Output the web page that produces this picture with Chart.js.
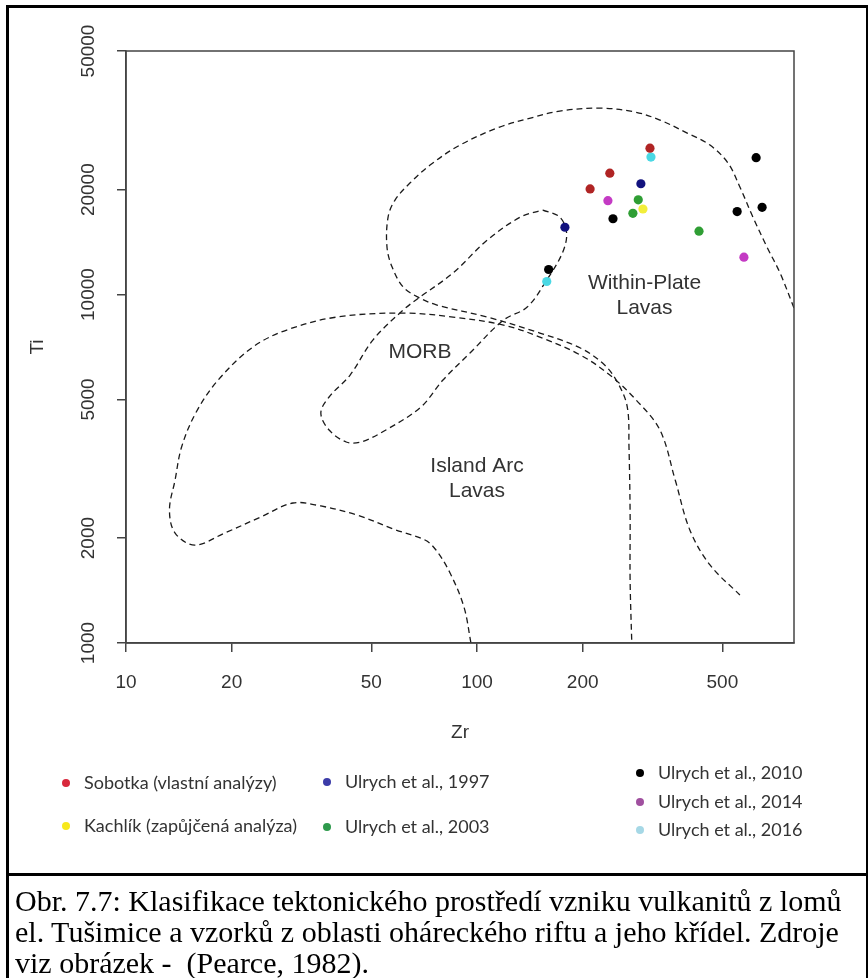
<!DOCTYPE html>
<html>
<head>
<meta charset="utf-8">
<script src="https://cdn.jsdelivr.net/npm/chart.js@4"></script>
<style>
  body { margin: 0; background: #fff; width: 868px; height: 978px; position: relative; overflow: hidden; }
  #plot { position: absolute; left: 0; top: 0; }
  #frame { position: absolute; left: 6px; top: 5px; width: 857px; height: 865px; border: 3px solid #000; pointer-events: none; }
  #caption { position: absolute; left: 6px; top: 873px; width: 851px; height: 110px; padding-left: 6px;
             border-left: 3px solid #000; border-right: 3px solid #000;
             font-family: "Liberation Serif", "Times New Roman", serif; font-size: 30px; line-height: 31px; color: #000; }
  #caption div { white-space: nowrap; }
</style>
</head>
<body>
<canvas id="plot" width="868" height="873"></canvas>
<div id="frame"></div>
<div id="caption">
  <div style="margin-top:12px">Obr. 7.7: Klasifikace tektonického prostředí vzniku vulkanitů z lomů</div>
  <div>el. Tušimice a vzorků z oblasti oháreckého riftu a jeho křídel. Zdroje</div>
  <div>viz obrázek -&nbsp; (Pearce, 1982).</div>
</div>
<script>
// axis ticks
const zrTicks = [10, 20, 50, 100, 200, 500];
const tiTicks = [1000, 2000, 5000, 10000, 20000, 50000];

// sample groups
const groups = ['Sobotka (vlastní analýzy)', 'Kachlík (zapůjčená analýza)', 'Ulrych et al., 1997',
                'Ulrych et al., 2003', 'Ulrych et al., 2010', 'Ulrych et al., 2014', 'Ulrych et al., 2016'];
const pointColors = ['#b02424', '#f2ee3a', '#12127e', '#2f9e34', '#000000', '#c43ac4', '#4ad8e4'];
const legendColors = ['#d8283c', '#f7e81c', '#3c3ca8', '#2e9a4c', '#000000', '#a0509f', '#a6d8e6'];

const sobotkaZr = [311, 239, 210];
const sobotkaTi = [26300, 22300, 20100];
const kachlikZr = [297];
const kachlikTi = [17600];
const ulrych1997Zr = [293, 178];
const ulrych1997Ti = [20800, 15600];
const ulrych2003Zr = [288, 278, 429];
const ulrych2003Ti = [18700, 17100, 15200];
const ulrych2010Zr = [244, 160, 624, 551, 649];
const ulrych2010Ti = [16500, 11800, 24700, 17300, 17800];
const ulrych2014Zr = [236, 576];
const ulrych2014Ti = [18600, 12800];
const ulrych2016Zr = [313, 158];
const ulrych2016Ti = [24800, 10900];

const groupZr = [sobotkaZr, kachlikZr, ulrych1997Zr, ulrych2003Zr, ulrych2010Zr, ulrych2014Zr, ulrych2016Zr];
const groupTi = [sobotkaTi, kachlikTi, ulrych1997Ti, ulrych2003Ti, ulrych2010Ti, ulrych2014Ti, ulrych2016Ti];

// Pearce (1982) field boundaries
const withinPlateZr = [800, 730, 670, 611, 561, 519, 461, 397, 332, 282, 224, 172, 142, 116, 89.4, 73.5, 64.4,
                       58.4, 55.8, 55.4, 57.3, 61.6, 67.9, 76.9, 107, 151, 197, 231, 252, 268, 271, 273, 273, 276];
const withinPlateTi = [9150, 11530, 13690, 16690, 20350, 23840, 26850, 29070, 31680, 33400, 34290, 33610, 32100,
                       30240, 26850, 23530, 20890, 18670, 16690, 13690, 11990, 10510, 9835, 9330, 8620, 7755,
                       7025, 6277, 5573, 4756, 3651, 2361, 1516, 1000];
const islandArcZr = [96.1, 91.8, 83.8, 76.4, 71.1, 58.8, 45.5, 35.9, 29.9, 24.2, 19.1, 15.7, 13.8, 13.3, 13.8,
                     14.4, 15.8, 18.3, 23.0, 28.7, 39.9, 61.6, 85.4, 119, 151, 197, 239, 284, 332, 367, 404, 461, 561];
const islandArcTi = [1000, 1268, 1588, 1849, 1975, 2110, 2330, 2473, 2522, 2299, 2068, 1910, 2068, 2408, 2936,
                     3651, 4571, 5684, 7071, 7911, 8620, 8850, 8620, 8176, 7553, 6706, 5875, 4982, 4086, 2936,
                     2110, 1675, 1373];
const morbZr = [154, 172, 180, 175, 158, 139, 119, 95.5, 80.0, 69.2, 55.0, 46.7, 42.4, 37.9, 35.9, 37.9, 43.5,
                50.5, 61.6, 68.8, 85.4, 107, 133, 154];
const morbTi = [17480, 16690, 15010, 13150, 11010, 9209, 8450, 6795, 5684, 4756, 4086, 3774, 3774, 4086, 4571,
                5081, 5875, 7404, 9028, 9835, 11530, 14330, 16690, 17480];

// field names and where they sit (Zr, Ti)
const fieldNames = [['Within-Plate', 'Lavas'], ['MORB'], ['Island Arc', 'Lavas']];
const fieldZr = [300, 68.8, 100];
const fieldTi = [9900, 6840, 2955];

const toPoints = (xs, ys) => xs.map((x, i) => ({ x: x, y: ys[i] }));

const datasets = groups.map((g, i) => ({
  label: g,
  data: toPoints(groupZr[i], groupTi[i]),
  backgroundColor: pointColors[i],
  borderWidth: 0,
  pointRadius: 4.6,
  order: 0
}));

[[withinPlateZr, withinPlateTi], [islandArcZr, islandArcTi], [morbZr, morbTi]].forEach(([zr, ti]) => {
  datasets.push({
    type: 'line',
    data: toPoints(zr, ti),
    borderColor: '#1a1a1a',
    borderWidth: 1.3,
    borderDash: [6, 4],
    pointRadius: 0,
    tension: 0.35,
    fill: false,
    order: 1
  });
});

const axisColor = '#444';
const textColor = '#333';
const sans = '"Liberation Sans", Arial, sans-serif';

const decor = {
  id: 'decor',
  afterDraw(chart) {
    const { ctx, chartArea: a, scales: { x, y } } = chart;
    ctx.save();

    // closing box
    ctx.strokeStyle = axisColor;
    ctx.lineWidth = 1.5;
    ctx.strokeRect(a.left, a.top, a.right - a.left, a.bottom - a.top);

    ctx.fillStyle = textColor;
    ctx.font = '19px ' + sans;
    ctx.textAlign = 'center';
    ctx.textBaseline = 'middle';
    zrTicks.forEach(v => ctx.fillText(String(v), x.getPixelForValue(v), a.bottom + 40));
    tiTicks.forEach(v => {
      ctx.save();
      ctx.translate(a.left - 37, y.getPixelForValue(v));
      ctx.rotate(-Math.PI / 2);
      ctx.fillText(String(v), 0, 0);
      ctx.restore();
    });

    // axis titles
    ctx.font = '19px ' + sans;
    ctx.fillText('Zr', (a.left + a.right) / 2, a.bottom + 90);
    ctx.save();
    ctx.translate(a.left - 88, (a.top + a.bottom) / 2);
    ctx.rotate(-Math.PI / 2);
    ctx.fillText('Ti', 0, 0);
    ctx.restore();

    // field names
    ctx.font = '21px ' + sans;
    fieldNames.forEach((lines, i) => {
      const cx = x.getPixelForValue(fieldZr[i]);
      const cy = y.getPixelForValue(fieldTi[i]);
      lines.forEach((t, k) => ctx.fillText(t, cx, cy + (k - (lines.length - 1) / 2) * 25));
    });

    // legend
    const slots = [[66, 783], [66, 826], [327, 782], [327, 827], [640, 773], [640, 802], [640, 830]];
    ctx.font = '18px Lato, "Open Sans", sans-serif';
    ctx.textAlign = 'left';
    groups.forEach((g, i) => {
      const [lx, ly] = slots[i];
      ctx.fillStyle = legendColors[i];
      ctx.beginPath();
      ctx.arc(lx, ly, 4, 0, Math.PI * 2);
      ctx.fill();
      ctx.fillStyle = textColor;
      ctx.fillText(g, lx + 18, ly);
    });
    ctx.restore();
  }
};

new Chart(document.getElementById('plot'), {
  type: 'scatter',
  data: { datasets },
  options: {
    responsive: false,
    animation: false,
    layout: { padding: { left: 126, top: 51, right: 74, bottom: 230 } },
    plugins: { legend: { display: false }, tooltip: { enabled: false } },
    scales: {
      x: {
        type: 'logarithmic', min: 10, max: 800,
        afterBuildTicks: s => { s.ticks = zrTicks.map(v => ({ value: v })); },
        afterFit: s => { s.height = 0; },
        ticks: { display: false },
        grid: { drawOnChartArea: false, drawTicks: true, tickLength: 9, color: axisColor, lineWidth: 1.5 },
        border: { display: true, color: axisColor, width: 1.5 }
      },
      y: {
        type: 'logarithmic', min: 1000, max: 50000,
        afterBuildTicks: s => { s.ticks = tiTicks.map(v => ({ value: v })); },
        afterFit: s => { s.width = 0; },
        ticks: { display: false },
        grid: { drawOnChartArea: false, drawTicks: true, tickLength: 9, color: axisColor, lineWidth: 1.5 },
        border: { display: true, color: axisColor, width: 1.5 }
      }
    }
  },
  plugins: [decor]
});
</script>
</body>
</html>
